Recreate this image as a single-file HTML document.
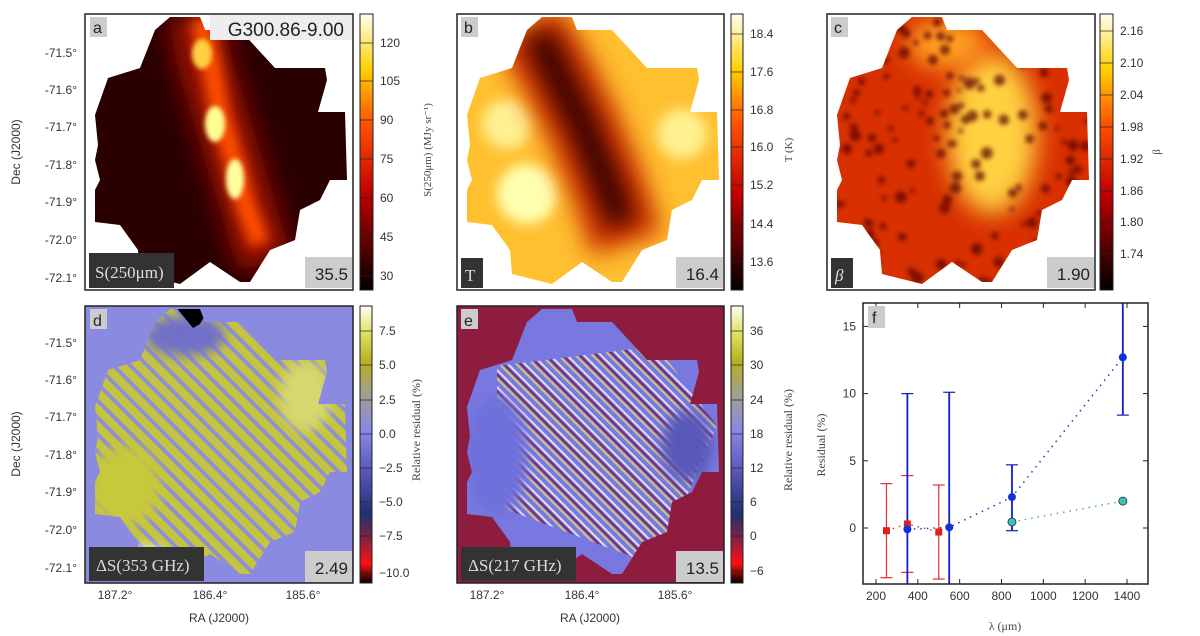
<!DOCTYPE html>
<html><head><meta charset="utf-8"><style>
body{margin:0;background:#fff;}
svg{display:block;font-family:"Liberation Sans","DejaVu Sans",sans-serif;}
.serif{font-family:"Liberation Serif",serif;}
</style></head><body>
<svg id="fig" width="1200" height="636" viewBox="0 0 1200 636" xmlns="http://www.w3.org/2000/svg">
<defs>
<clipPath id="blob"><polygon points="85,3 115,3 120,16 155,16 190,54 240,54 242,66 233,98 260,98 262,166 245,166 235,186 215,196 210,226 185,236 165,268 155,268 125,248 95,270 55,260 53,236 35,211 10,208 10,176 15,166 10,146 13,131 10,101 23,64 55,54 70,16"/></clipPath>
<filter id="b6" filterUnits="userSpaceOnUse" x="-100" y="-100" width="500" height="500"><feGaussianBlur stdDeviation="6"/></filter>
<filter id="b12" filterUnits="userSpaceOnUse" x="-100" y="-100" width="500" height="500"><feGaussianBlur stdDeviation="12"/></filter>
<filter id="b3" filterUnits="userSpaceOnUse" x="-100" y="-100" width="500" height="500"><feGaussianBlur stdDeviation="2.5"/></filter>
<linearGradient id="cmHot" x1="0" y1="1" x2="0" y2="0">
<stop offset="0" stop-color="#000"/><stop offset="0.35" stop-color="#c00000"/><stop offset="0.6" stop-color="#ff5000"/><stop offset="0.8" stop-color="#ffd000"/><stop offset="1" stop-color="#fffff0"/></linearGradient>
<linearGradient id="cmRes" x1="0" y1="1" x2="0" y2="0">
<stop offset="0" stop-color="#000"/><stop offset="0.07" stop-color="#ff1010"/><stop offset="0.15" stop-color="#902040"/><stop offset="0.25" stop-color="#203070"/><stop offset="0.38" stop-color="#5050b0"/><stop offset="0.55" stop-color="#8888e8"/><stop offset="0.68" stop-color="#a0a090"/><stop offset="0.8" stop-color="#b8b020"/><stop offset="0.9" stop-color="#e0e060"/><stop offset="1" stop-color="#fffff0"/></linearGradient>
<pattern id="stripesD" width="12" height="12" patternUnits="userSpaceOnUse" patternTransform="rotate(-45)"><rect width="12" height="12" fill="#c4c440"/><rect width="4" height="12" fill="#9090d0"/></pattern>
<pattern id="stripesE" width="12" height="12" patternUnits="userSpaceOnUse" patternTransform="rotate(-45)"><rect width="12" height="12" fill="#7878e0"/><rect width="2" height="12" fill="#e8e060"/><rect x="3" width="2" height="12" fill="#801030"/><rect x="6" width="2" height="12" fill="#fff"/></pattern>
</defs>

<!-- Panel a -->
<g transform="translate(85,14)">
<g clip-path="url(#blob)">
<rect width="270" height="276" fill="#2a0000"/>
<polyline points="110,0 120,50 135,100 150,150 165,200 180,250" fill="none" stroke="#9a0c00" stroke-width="55" filter="url(#b12)"/>
<polyline points="115,5 125,45 135,100 150,150 160,190 175,230" fill="none" stroke="#ff5000" stroke-width="20" filter="url(#b6)"/>
<ellipse cx="130" cy="110" rx="10" ry="18" fill="#ffff90" filter="url(#b3)"/>
<ellipse cx="150" cy="165" rx="9" ry="20" fill="#ffffa0" filter="url(#b3)"/>
<ellipse cx="117" cy="40" rx="10" ry="15" fill="#ffd040" filter="url(#b3)"/>
</g></g>
<rect x="85" y="14" width="268" height="276" fill="none" stroke="#222" stroke-width="1.5"/>
<rect x="90" y="17" width="17" height="20" fill="#ccc"/><text x="93" y="33" font-size="16" fill="#222">a</text>
<rect x="210" y="15" width="142" height="25" fill="#eee"/><text x="344" y="36" font-size="19" fill="#222" text-anchor="end">G300.86-9.00</text>
<rect x="89" y="253" width="85" height="35" fill="#333"/><text x="95" y="278" font-size="17" fill="#ddd" class="serif">S(250μm)</text>
<rect x="305" y="257" width="47" height="31" fill="#ccc"/><text x="348" y="280" font-size="17" fill="#222" text-anchor="end">35.5</text>

<!-- Panel b -->
<g transform="translate(457,14)">
<g clip-path="url(#blob)">
<rect width="270" height="276" fill="#ffc030"/>
<circle cx="50" cy="110" r="25" fill="#fff090" filter="url(#b6)"/>
<circle cx="70" cy="180" r="30" fill="#ffffb0" filter="url(#b6)"/>
<circle cx="225" cy="120" r="25" fill="#fff090" filter="url(#b6)"/>
<polyline points="70,10 100,60 125,110 150,170 170,230" fill="none" stroke="#d03000" stroke-width="75" filter="url(#b12)"/>
<polyline points="80,20 100,60 125,110 150,170 165,210" fill="none" stroke="#300000" stroke-width="30" filter="url(#b12)"/>
</g></g>
<rect x="457" y="14" width="267" height="276" fill="none" stroke="#222" stroke-width="1.5"/>
<rect x="461" y="17" width="17" height="20" fill="#ccc"/><text x="464" y="33" font-size="16" fill="#222">b</text>
<rect x="461" y="258" width="22" height="30" fill="#333"/><text x="465" y="281" font-size="17" fill="#ddd" class="serif">T</text>
<rect x="676" y="257" width="47" height="31" fill="#ccc"/><text x="719" y="280" font-size="17" fill="#222" text-anchor="end">16.4</text>

<!-- Panel c -->
<g transform="translate(827,14)">
<g clip-path="url(#blob)">
<rect width="270" height="276" fill="#d83000"/>
<ellipse cx="165" cy="120" rx="45" ry="80" fill="#ffd040" filter="url(#b12)"/>
<ellipse cx="120" cy="30" rx="40" ry="25" fill="#ffa020" filter="url(#b12)"/>
<g id="cspots" fill="#5a0000" opacity="0.7" filter="url(#b3)"></g>
</g></g>
<rect x="827" y="14" width="268" height="276" fill="none" stroke="#222" stroke-width="1.5"/>
<rect x="831" y="17" width="17" height="20" fill="#ccc"/><text x="834" y="33" font-size="16" fill="#222">c</text>
<rect x="831" y="258" width="22" height="30" fill="#333"/><text x="835" y="281" font-size="17" fill="#ddd" class="serif" font-style="italic">β</text>
<rect x="1047" y="257" width="47" height="31" fill="#ccc"/><text x="1090" y="280" font-size="17" fill="#222" text-anchor="end">1.90</text>

<!-- Panel d -->
<rect x="85" y="306" width="268" height="277" fill="#8a8ae0"/>
<g transform="translate(85,306)">
<g clip-path="url(#blob)">
<rect width="270" height="276" fill="url(#stripesD)"/>
<ellipse cx="40" cy="180" rx="35" ry="40" fill="#c8c83a" filter="url(#b6)"/>
<ellipse cx="60" cy="260" rx="30" ry="18" fill="#fff" filter="url(#b6)"/>
<ellipse cx="220" cy="90" rx="25" ry="35" fill="#d8d870" filter="url(#b6)"/>
<ellipse cx="100" cy="30" rx="40" ry="20" fill="#7070c8" filter="url(#b6)"/>
<polygon points="90,0 125,0 115,18 108,22" fill="#000"/>
</g></g>
<rect x="85" y="306" width="268" height="277" fill="none" stroke="#222" stroke-width="1.5"/>
<rect x="90" y="309" width="17" height="20" fill="#ccc"/><text x="93" y="326" font-size="16" fill="#222">d</text>
<rect x="89" y="547" width="115" height="34" fill="#333"/><text x="96" y="571" font-size="17" fill="#ddd" class="serif">ΔS(353 GHz)</text>
<rect x="305" y="551" width="47" height="31" fill="#ccc"/><text x="348" y="574" font-size="17" fill="#222" text-anchor="end">2.49</text>

<!-- Panel e -->
<rect x="457" y="306" width="267" height="277" fill="#8e1c3e"/>
<g transform="translate(457,306)">
<g clip-path="url(#blob)">
<rect width="270" height="276" fill="#7878e0"/>
<polygon points="40,60 200,40 260,120 200,260 40,200" fill="url(#stripesE)" opacity="0.75"/>
<ellipse cx="40" cy="150" rx="30" ry="60" fill="#7070dc" filter="url(#b6)"/>
<ellipse cx="230" cy="140" rx="25" ry="35" fill="#5858b8" filter="url(#b6)"/>
</g></g>
<rect x="457" y="306" width="267" height="277" fill="none" stroke="#222" stroke-width="1.5"/>
<rect x="461" y="309" width="17" height="20" fill="#ccc"/><text x="464" y="326" font-size="16" fill="#222">e</text>
<rect x="461" y="547" width="115" height="34" fill="#333"/><text x="468" y="571" font-size="17" fill="#ddd" class="serif">ΔS(217 GHz)</text>
<rect x="676" y="551" width="47" height="31" fill="#ccc"/><text x="719" y="574" font-size="17" fill="#222" text-anchor="end">13.5</text>

<!-- Colorbars -->
<rect x="360" y="14" width="13" height="276" fill="url(#cmHot)" stroke="#222"/>
<rect x="731" y="14" width="12" height="276" fill="url(#cmHot)" stroke="#222"/>
<rect x="1100" y="14" width="13" height="276" fill="url(#cmHot)" stroke="#222"/>
<rect x="360" y="306" width="12" height="277" fill="url(#cmRes)" stroke="#222"/>
<rect x="731" y="306" width="12" height="277" fill="url(#cmRes)" stroke="#222"/>
<g id="cbticks"></g>

<text transform="translate(431,150) rotate(-90)" text-anchor="middle" font-size="11" fill="#444" class="serif">S(250μm) (MJy sr⁻¹)</text>
<text transform="translate(792,150) rotate(-90)" text-anchor="middle" font-size="11" fill="#444" class="serif">T (K)</text>
<text transform="translate(1160,152) rotate(-90)" text-anchor="middle" font-size="11" fill="#444" class="serif">β</text>
<text transform="translate(420,430) rotate(-90)" text-anchor="middle" font-size="12" fill="#444" class="serif">Relative residual (%)</text>
<text transform="translate(792,440) rotate(-90)" text-anchor="middle" font-size="12" fill="#444" class="serif">Relative residual (%)</text>

<!-- Map axes -->
<g id="mapaxes"></g>
<text transform="translate(20,152) rotate(-90)" text-anchor="middle" font-size="12" fill="#333">Dec (J2000)</text>
<text transform="translate(20,444) rotate(-90)" text-anchor="middle" font-size="12" fill="#333">Dec (J2000)</text>
<text x="219" y="622" text-anchor="middle" font-size="12" fill="#333">RA (J2000)</text>
<text x="590" y="622" text-anchor="middle" font-size="12" fill="#333">RA (J2000)</text>

<!-- Panel f -->
<g id="pf"></g>
<rect x="863" y="303" width="285" height="281" fill="none" stroke="#222" stroke-width="1.5"/>
<rect x="868" y="306" width="17" height="22" fill="#ccc"/><text x="872" y="323" font-size="16" fill="#222">f</text>
<text transform="translate(825,445) rotate(-90)" text-anchor="middle" font-size="12" fill="#444" class="serif">Residual (%)</text>
<text x="1005" y="630" text-anchor="middle" font-size="12" fill="#444" class="serif">λ (μm)</text>
</svg>
<script>
const NS="http://www.w3.org/2000/svg";
function mk(tag,attrs,parent){const e=document.createElementNS(NS,tag);for(const k in attrs)e.setAttribute(k,attrs[k]);parent.appendChild(e);return e;}
// panel c spots (texture, hashed placement)
const cs=document.getElementById('cspots');
function h(n){const s=Math.sin(n*12.9898)*43758.5453;return s-Math.floor(s);}
for(let i=0;i<150;i++){const x=h(i+1)*260+5,y=h(i+501)*265+5;const c=mk('circle',{cx:x.toFixed(1),cy:y.toFixed(1),r:(2+h(i+901)*4).toFixed(1)},cs);

}

// colorbar ticks
const cbA=["120","105","90","75","60","45","30"], cbAy=[47,85,124,163,202,241,280];
const cbB=["18.4","17.6","16.8","16.0","15.2","14.4","13.6"], cbBy=[38,76,114,151,189,228,266];
const cbC=["2.16","2.10","2.04","1.98","1.92","1.86","1.80","1.74"], cbCy=[35,67,99,131,163,195,226,258];
const cbD=["7.5","5.0","2.5","0.0","\u22122.5","\u22125.0","\u22127.5","\u221210.0"], cbDy=[335,369,404,438,472,506,540,577];
const cbE=["36","30","24","18","12","6","0","\u22126"], cbEy=[335,369,404,438,472,506,540,575];
const cbt=document.getElementById('cbticks');
[[cbA,cbAy,360,13],[cbB,cbBy,731,12],[cbC,cbCy,1100,13],[cbD,cbDy,360,12],[cbE,cbEy,731,12]].forEach(([l,ys,x,w])=>{
 l.forEach((s,i)=>{const ln=mk('line',{x1:x,x2:x+w,y1:ys[i]-4,y2:ys[i]-4,stroke:'#222','stroke-width':0.7},cbt);
 
 
 const t=mk('text',{x:x+w+7,y:ys[i],'font-size':12,fill:'#333'},cbt);t.textContent=s;
 
 });
});

// map axis labels
const decLabels=["-71.5°","-71.6°","-71.7°","-71.8°","-71.9°","-72.0°","-72.1°"];
const decTopY=[53,90,127,165,202,240,278];
const raLabels=["187.2°","186.4°","185.6°"];
const raOff=[30,125,218];
const ma=document.getElementById('mapaxes');
[0,290].forEach(off=>{decLabels.forEach((s,i)=>{const t=mk('text',{x:77,y:decTopY[i]+off+4,'font-size':12,fill:'#333','text-anchor':'end'},ma);t.textContent=s;
 
 });});
[85,457].forEach(px=>{raLabels.forEach((s,i)=>{const t=mk('text',{x:px+raOff[i],y:599,'font-size':12,fill:'#333','text-anchor':'middle'},ma);t.textContent=s;
 
 });});

// panel f data
const redLam=[250,350,500], redVal=[-0.2,0.3,-0.3], redLo=[-3.7,-3.3,-3.8], redHi=[3.3,3.9,3.2];
const blueLam=[350,550,850,1380], blueVal=[-0.1,0.05,2.3,12.7], blueLo=[-4.5,-4.5,-0.2,8.4], blueHi=[10.0,10.1,4.7,17.0];
const cyanLam=[850,1380], cyanVal=[0.45,2.0];
const xTicks=[200,400,600,800,1000,1200,1400], yTicks=[0,5,10,15];
const X=v=>876+(v-200)*(1127-876)/1200, Y=v=>528-v*13.44;
const pf=document.getElementById('pf');
const cp=mk('clipPath',{id:'fclip'},pf);
mk('rect',{x:863,y:303,width:285,height:281},cp);
xTicks.forEach(v=>{const t=mk('text',{x:X(v),y:600,'font-size':12,fill:'#333','text-anchor':'middle'},pf);t.textContent=v;
 
 
 mk('line',{x1:X(v),x2:X(v),y1:303,y2:308,stroke:'#222'},pf);mk('line',{x1:X(v),x2:X(v),y1:579,y2:584,stroke:'#222'},pf);});
yTicks.forEach(v=>{const t=mk('text',{x:856,y:Y(v)+4,'font-size':12,fill:'#333','text-anchor':'end'},pf);t.textContent=v;
 
 
 mk('line',{x1:863,x2:868,y1:Y(v),y2:Y(v),stroke:'#222'},pf);mk('line',{x1:1143,x2:1148,y1:Y(v),y2:Y(v),stroke:'#222'},pf);});
const g=mk('g',{'clip-path':'url(#fclip)'},pf);
function series(lam,val,col,name,dash){const l=mk('polyline',{points:lam.map((x,i)=>X(x)+','+Y(val[i])).join(' '),fill:'none',stroke:col,'stroke-width':1.5,'stroke-dasharray':dash},g);
 
 }
series(redLam,redVal,'#c04040','red-series','1.5 5');
series(blueLam,blueVal,'#3030b0','blue-series','1.5 5');
series(cyanLam,cyanVal,'#40b0a0','cyan-series','1.5 5');
function err(lam,lo,hi,col,w,name){lam.forEach((x,i)=>{const e=mk('line',{x1:X(x),x2:X(x),y1:Y(lo[i]),y2:Y(hi[i]),stroke:col,'stroke-width':w},g);
 
 
 [lo[i],hi[i]].forEach(v=>mk('line',{x1:X(x)-6,x2:X(x)+6,y1:Y(v),y2:Y(v),stroke:col,'stroke-width':1.2},g));});}
err(redLam,redLo,redHi,'#e03030',1.2,'red');
err(blueLam,blueLo,blueHi,'#1020c0',1.8,'blue');
function pts(lam,val,col,name,shape){lam.forEach((x,i)=>{let p;
 if(shape==='sq')p=mk('rect',{x:X(x)-3.5,y:Y(val[i])-3.5,width:7,height:7,fill:col},g);
 else p=mk('circle',{cx:X(x),cy:Y(val[i]),r:4,fill:col,stroke:shape==='oc'?'#205050':'none'},g);
 
 });}
pts(redLam,redVal,'#e02020','red','sq');
pts(blueLam,blueVal,'#1030e0','blue','c');
pts(cyanLam,cyanVal,'#40c0b0','cyan','oc');
</script>
</body></html>
